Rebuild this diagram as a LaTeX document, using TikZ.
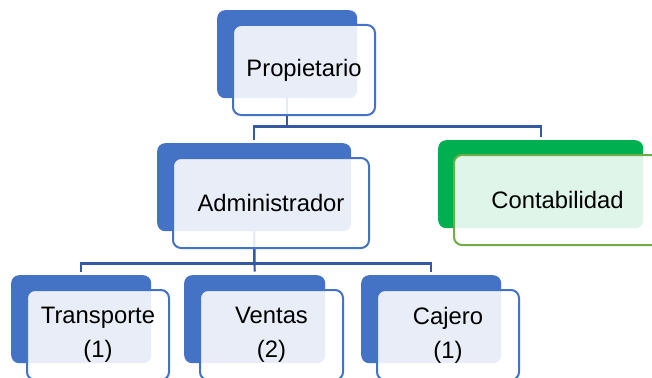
\documentclass[tikz,border=0pt]{standalone}
\usepackage{fontspec}
\setmainfont{Liberation Sans}
\usetikzlibrary{calc}

\definecolor{unitblue}{RGB}{68,114,196}
\definecolor{linkblue}{RGB}{52,88,162}
\definecolor{unitgreen}{RGB}{0,176,80}
\definecolor{rimgreen}{RGB}{112,173,71}

\pgfdeclarelayer{background}
\pgfsetlayers{background,main}

\tikzset{
  backbox/.style={rectangle, rounded corners=8pt, fill=#1, draw=none,
    minimum height=88pt, inner sep=0pt, anchor=north west},
  frontbox/.style={rectangle, rounded corners=8pt, draw=#1, line width=2pt,
    fill=white, fill opacity=0.88, text opacity=1, text=black,
    minimum height=90pt, inner sep=0pt, anchor=north west, align=center,
    font=\fontsize{23.8}{34}\selectfont},
  link/.style={draw=linkblue, line width=2.2pt, shorten >=3.5pt}
}

% \orgunit{name}{left}{top}{width}{back colour}{rim colour}{label}
\newcommand\orgunit[7]{%
  \node[backbox=#5, minimum width=#4pt] (#1) at (#2,#3) {};
  \node[frontbox=#6, minimum width=#4pt+2pt] (#1f) at ($(#1.north west)+(15,14)$) {#7};
}

\begin{document}
\begin{tikzpicture}[x=1pt, y=-1pt]
  \clip (0,0) rectangle (652,377);

  % boxes: a solid shadow card with an outlined card on top
  \orgunit{prop}{217}{10}{140}{unitblue}{unitblue}{Propietario}
  \orgunit{adm}{157}{143}{194}{unitblue}{unitblue}{Administrador}
  \orgunit{cont}{438}{140}{205}{unitgreen}{rimgreen}{Contabilidad}
  \orgunit{trans}{11}{275}{140}{unitblue}{unitblue}{Transporte\\(1)}
  \orgunit{vent}{184}{275}{141}{unitblue}{unitblue}{Ventas\\(2)}
  \orgunit{caj}{361}{275}{140}{unitblue}{unitblue}{Cajero\\(1)}

  % page background and connectors, beneath the boxes
  \begin{pgfonlayer}{background}
    \fill[white] (0,0) rectangle (652,377);
    \draw[link] (prop.south) -- ++(0,28) -| (adm.north);
    \draw[link] (prop.south) -- ++(0,28) -| (cont.north);
    \draw[link] (adm.south) -- ++(0,32) -| (trans.north);
    \draw[link] (adm.south) -- (vent.north);
    \draw[link] (adm.south) -- ++(0,32) -| (caj.north);
  \end{pgfonlayer}
\end{tikzpicture}
\end{document}
